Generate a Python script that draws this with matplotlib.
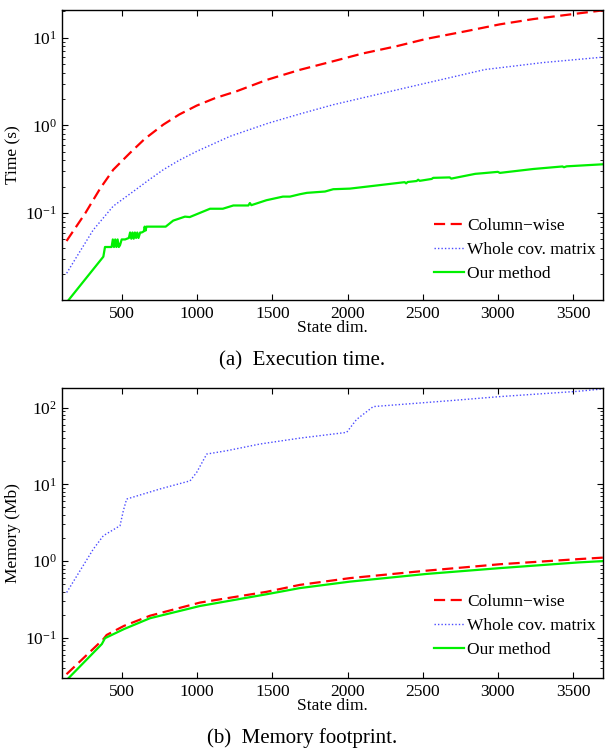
import matplotlib
matplotlib.use("Agg")
import matplotlib.pyplot as plt
from matplotlib.ticker import LogLocator, NullFormatter

plt.rcParams['font.family'] = ['Liberation Serif', 'DejaVu Serif']
plt.rcParams['mathtext.fontset'] = 'stix'

# ---------------- data: (a) execution time ----------------
t_col_x = [130, 255, 355, 441, 552, 650, 774, 880, 996, 1120, 1262, 1462, 1683, 1905, 2100,
           2327, 2525, 2793, 3014, 3236, 3534, 3700]
t_col_y = [0.048, 0.0997, 0.192, 0.312, 0.484, 0.70, 1.02, 1.33, 1.68, 2.05, 2.45, 3.3, 4.3, 5.39, 6.6,
           8.0, 9.7, 11.9, 14.2, 16.3, 18.9, 20.5]

t_whole_x = [131, 198, 308, 441, 574, 680, 774, 880, 996, 1218, 1473, 1683, 1905, 2337, 2914, 3300, 3700]
t_whole_y = [0.0206, 0.0318, 0.0643, 0.120, 0.176, 0.24, 0.312, 0.40, 0.505, 0.75, 1.06, 1.35, 1.72,
             2.56, 4.33, 5.2, 6.0]

t_our_x = [140, 375, 386, 430, 438, 446, 454, 462, 470, 478, 486, 497, 520, 545, 553, 561,
           569, 577, 585, 593, 601, 609, 620, 630, 645, 650, 656, 662, 700, 790, 840, 918,
           950, 1085, 1170, 1240, 1340, 1350, 1360, 1460, 1570, 1617, 1683, 1730, 1850, 1905,
           2016, 2170, 2380, 2390, 2400, 2460, 2470, 2480, 2560, 2570, 2680, 2690, 2850, 2903,
           3000, 3014, 3050, 3236, 3430, 3440, 3458, 3700]
t_our_y = [0.010, 0.0318, 0.041, 0.041, 0.050, 0.041, 0.050, 0.041, 0.050, 0.041, 0.043, 0.050, 0.050, 0.052, 0.060, 0.051,
           0.060, 0.051, 0.060, 0.052, 0.060, 0.052, 0.060, 0.060, 0.062, 0.070, 0.063, 0.070, 0.070, 0.070, 0.082, 0.091,
           0.090, 0.112, 0.112, 0.122, 0.122, 0.130, 0.123, 0.140, 0.154, 0.154, 0.164, 0.170, 0.176, 0.187,
           0.190, 0.204, 0.225, 0.218, 0.226, 0.232, 0.240, 0.233, 0.245, 0.252, 0.255, 0.247, 0.280, 0.285,
           0.295, 0.287, 0.292, 0.318, 0.340, 0.333, 0.341, 0.360]

# ---------------- data: (b) memory footprint ----------------
m_col_x = [130, 375, 397, 512, 685, 1018, 1462, 1683, 2016, 2525, 3014, 3534, 3700]
m_col_y = [0.0336, 0.096, 0.109, 0.143, 0.194, 0.288, 0.398, 0.49, 0.60, 0.75, 0.91, 1.06, 1.11]

m_whole_x = [131, 220, 308, 375, 486, 508, 530, 752, 952, 996, 1063, 1196, 1417, 1683, 1994,
             2060, 2171, 2682, 3014, 3534, 3700]
m_whole_y = [0.39, 0.75, 1.43, 2.14, 2.89, 4.53, 6.43, 8.7, 11.1, 14.3, 24.8, 27.4, 33.5, 40, 47.5,
             70, 103, 123, 139, 163, 175]

m_our_x = [140, 365, 386, 512, 685, 1018, 1462, 1683, 2016, 2525, 3014, 3534, 3700]
m_our_y = [0.0294, 0.083, 0.099, 0.13, 0.18, 0.26, 0.37, 0.445, 0.54, 0.68, 0.81, 0.96, 1.0]

labels = ['Column\u2212wise', 'Whole cov. matrix', 'Our method']
xticks = [500, 1000, 1500, 2000, 2500, 3000, 3500]

FS = 12.5
RED, BLUE, GREEN = '#ff0000', '#4b4bff', '#00f000'
DASH, DOT = (0, (5, 2.5)), (0, (1, 1.5))

fig = plt.figure(figsize=(6.05, 7.56), dpi=100)
ax1 = fig.add_axes([0.1025, 0.6032, 0.8942, 0.3836])
ax2 = fig.add_axes([0.1025, 0.1032, 0.8942, 0.3836])


def style(ax, ylim, ylabel):
    ax.set_yscale('log')
    ax.set_xlim(100, 3700)
    ax.set_ylim(*ylim)
    ax.set_xticks(xticks)
    ax.set_xticklabels([str(v) for v in xticks])
    ax.yaxis.set_major_locator(LogLocator(base=10, numticks=10))
    ax.yaxis.set_minor_locator(LogLocator(base=10, subs=range(2, 10), numticks=20))
    ax.yaxis.set_minor_formatter(NullFormatter())
    ax.tick_params(which='both', direction='in', top=True, right=True, labelsize=FS)
    ax.tick_params(which='major', length=4, width=0.8)
    ax.tick_params(which='minor', length=2, width=0.6)
    ax.tick_params(axis='x', pad=4)
    for s in ax.spines.values():
        s.set_linewidth(1.0)
    ax.set_xlabel('State dim.', fontsize=FS, labelpad=-1)
    ax.set_ylabel(ylabel, fontsize=FS, labelpad=3)


def legend(ax, yanchor):
    ax.legend(loc='lower right', bbox_to_anchor=(1.0, yanchor), frameon=False, fontsize=FS,
              handlelength=1.7, handletextpad=0.2, labelspacing=0.44,
              borderaxespad=0.2, borderpad=0.2)


ax1.plot(t_col_x, t_col_y, color=RED, ls=DASH, lw=1.6, label=labels[0])
ax1.plot(t_whole_x, t_whole_y, color=BLUE, ls=DOT, lw=1.0, label=labels[1])
ax1.plot(t_our_x, t_our_y, color=GREEN, ls='-', lw=1.6, label=labels[2])
style(ax1, (0.0102, 20.7), 'Time (s)')
legend(ax1, 0.038)

ax2.plot(m_col_x, m_col_y, color=RED, ls=DASH, lw=1.6, label=labels[0])
ax2.plot(m_whole_x, m_whole_y, color=BLUE, ls=DOT, lw=1.0, label=labels[1])
ax2.plot(m_our_x, m_our_y, color=GREEN, ls='-', lw=1.6, label=labels[2])
style(ax2, (0.03, 180), 'Memory (Mb)')
legend(ax2, 0.045)

fig.text(0.5, 1 - 361 / 756, '(a)  Execution time.', ha='center', va='center', fontsize=15)
fig.text(0.5, 1 - 738 / 756, '(b)  Memory footprint.', ha='center', va='center', fontsize=15)

fig.savefig('out.png', dpi=100)
